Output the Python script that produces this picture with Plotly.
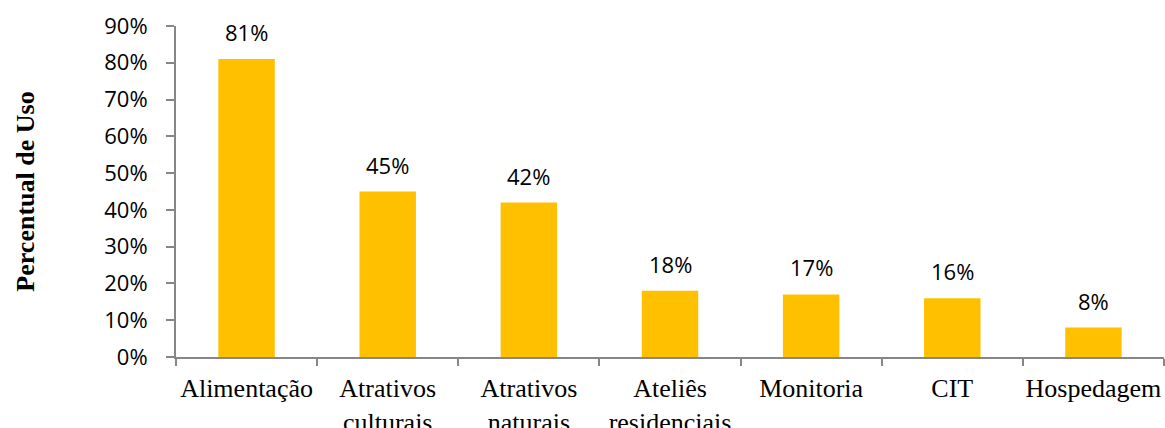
import plotly.graph_objects as go

categories = ["Alimentação", "Atrativos<br>culturais", "Atrativos<br>naturais",
              "Ateliês<br>residenciais", "Monitoria", "CIT", "Hospedagem"]
values = [0.81, 0.45, 0.42, 0.18, 0.17, 0.16, 0.08]
value_labels = ["81%", "45%", "42%", "18%", "17%", "16%", "8%"]

AXIS_GREY = "#868686"
SANS = "Open Sans, Lato, sans-serif"
SERIF = "Liberation Serif, Times New Roman, serif"

fig = go.Figure(go.Bar(
    x=categories,
    y=values,
    marker=dict(color="#FFC000", line=dict(width=0)),
))

# value labels floating above each bar
for cat, v, lab in zip(categories, values, value_labels):
    fig.add_annotation(
        x=cat, y=v, text=lab, showarrow=False,
        yanchor="bottom", yshift=10,
        font=dict(family=SANS, size=22, color="#000000"),
    )

fig.update_layout(
    width=1165, height=428,
    margin=dict(l=176, r=1, t=26, b=71),
    paper_bgcolor="white", plot_bgcolor="white",
    bargap=0.6,
    showlegend=False,
    xaxis=dict(
        showline=True, linecolor=AXIS_GREY, linewidth=2,
        ticks="outside", tickson="boundaries", ticklen=7, tickwidth=2, tickcolor=AXIS_GREY,
        ticklabelstandoff=7, tickangle=0, automargin=False,
        tickfont=dict(family=SERIF, size=26, color="#000000"),
        showgrid=False, zeroline=False,
    ),
    yaxis=dict(
        range=[0, 0.9], dtick=0.1, tickformat=".0%",
        showline=True, linecolor=AXIS_GREY, linewidth=2,
        ticks="outside", ticklen=8, tickwidth=2, tickcolor=AXIS_GREY,
        ticklabelstandoff=14, automargin=False,
        tickfont=dict(family=SANS, size=22, color="#000000"),
        showgrid=False, zeroline=False,
        title=dict(text="<b>Percentual de Uso</b>", standoff=62,
                   font=dict(family=SERIF, size=26, color="#000000")),
    ),
)

fig.write_html("out.html")
